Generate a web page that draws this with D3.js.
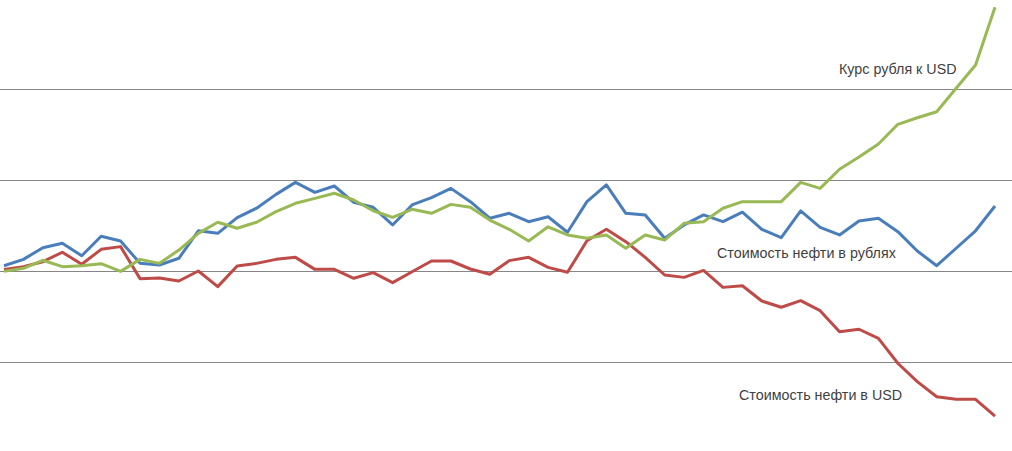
<!DOCTYPE html>
<html>
<head>
<meta charset="utf-8">
<script src="https://cdn.jsdelivr.net/npm/d3@7"></script>
<style>
  body { margin: 0; background: white; }
  svg { display: block; }
</style>
</head>
<body>
<svg id="plot"></svg>
<script>
// Values as an index (start = 100)
const oilRub = [102.9, 106.4, 112.8, 115.2, 108.4, 119.1, 116.5, 104.2, 103.3, 107.0,
  122.1, 120.7, 129.3, 134.5, 142.1, 148.7, 143.2, 146.7, 137.7, 135.0,
  125.3, 136.3, 140.3, 145.4, 138.1, 129.0, 131.7, 127.1, 129.8, 121.3,
  138.1, 147.3, 131.7, 130.8, 118.0, 125.3, 130.8, 127.1, 132.3, 122.9,
  118.3, 133.0, 124.0, 119.8, 127.5, 129.0, 121.6, 111.0, 102.9, 112.5,
  122.1, 135.7];
const rubUsd = [99.8, 101.5, 105.9, 102.4, 102.9, 104.0, 99.8, 106.4, 104.2, 111.5,
  120.7, 126.8, 123.5, 126.8, 132.6, 137.2, 139.9, 142.7, 139.0, 133.1,
  129.5, 133.9, 131.7, 136.6, 135.0, 128.0, 122.9, 116.5, 124.3, 119.8,
  118.0, 119.8, 112.5, 119.8, 117.0, 126.2, 127.1, 134.5, 138.1, 138.1,
  138.1, 148.7, 145.4, 155.9, 162.6, 169.8, 180.6, 184.2, 187.5, 200.4,
  213.2, 244.9];
const oilUsd = [100.9, 102.4, 105.1, 110.3, 103.7, 111.9, 113.4, 95.8, 96.2, 94.5,
  100.0, 91.4, 102.7, 104.2, 106.4, 107.5, 100.9, 100.9, 96.0, 99.1,
  93.6, 99.6, 105.5, 105.5, 101.1, 98.2, 105.7, 107.5, 102.0, 99.3,
  116.6, 122.9, 116.1, 107.5, 97.8, 96.5, 100.3, 91.0, 91.9, 83.5,
  80.1, 83.7, 78.2, 66.6, 68.0, 63.0, 49.3, 39.2, 30.9, 29.5,
  29.5, 20.3];
const gridTicks = [50, 100, 150, 200];

const series = [
  {name: 'Стоимость нефти в рублях', values: oilRub, color: '#4a7ebb', lx: 717, ly: 258},
  {name: 'Стоимость нефти в USD', values: oilUsd, color: '#be4b48', lx: 739, ly: 400},
  {name: 'Курс рубля к USD', values: rubUsd, color: '#98b954', lx: 839, ly: 74}
];

let width = 1012, height = 451;

let svg = d3.select('#plot')
  .attr('width', width)
  .attr('height', height)
  .style('background', 'white');

let xScale = d3.scaleLinear()
  .domain([0, oilRub.length - 1])
  .range([4, 995]);

let yScale = d3.scaleLinear()
  .domain([0, 250])
  .range([453, -2]);

// gridlines
svg.append('g')
  .call(d3.axisLeft(yScale).tickValues(gridTicks).tickSize(-width).tickFormat(''))
  .call(g => g.select('.domain').remove())
  .call(g => g.selectAll('line')
    .attr('stroke', '#868686')
    .attr('stroke-width', 1)
    .attr('shape-rendering', 'crispEdges'));

let line = d3.line()
  .x((d, i) => xScale(i))
  .y(d => yScale(d));

svg.selectAll('path.series')
  .data(series)
  .enter()
  .append('path')
  .attr('class', 'series')
  .attr('d', d => line(d.values))
  .attr('fill', 'none')
  .attr('stroke', d => d.color)
  .attr('stroke-width', 3)
  .attr('stroke-linejoin', 'round');

// labels next to lines
svg.selectAll('text.label')
  .data(series)
  .enter()
  .append('text')
  .attr('class', 'label')
  .attr('x', d => d.lx)
  .attr('y', d => d.ly)
  .style('font-family', 'Liberation Sans, Arial, sans-serif')
  .style('font-size', '14.3px')
  .style('fill', '#3f3f3f')
  .text(d => d.name);
</script>
</body>
</html>
